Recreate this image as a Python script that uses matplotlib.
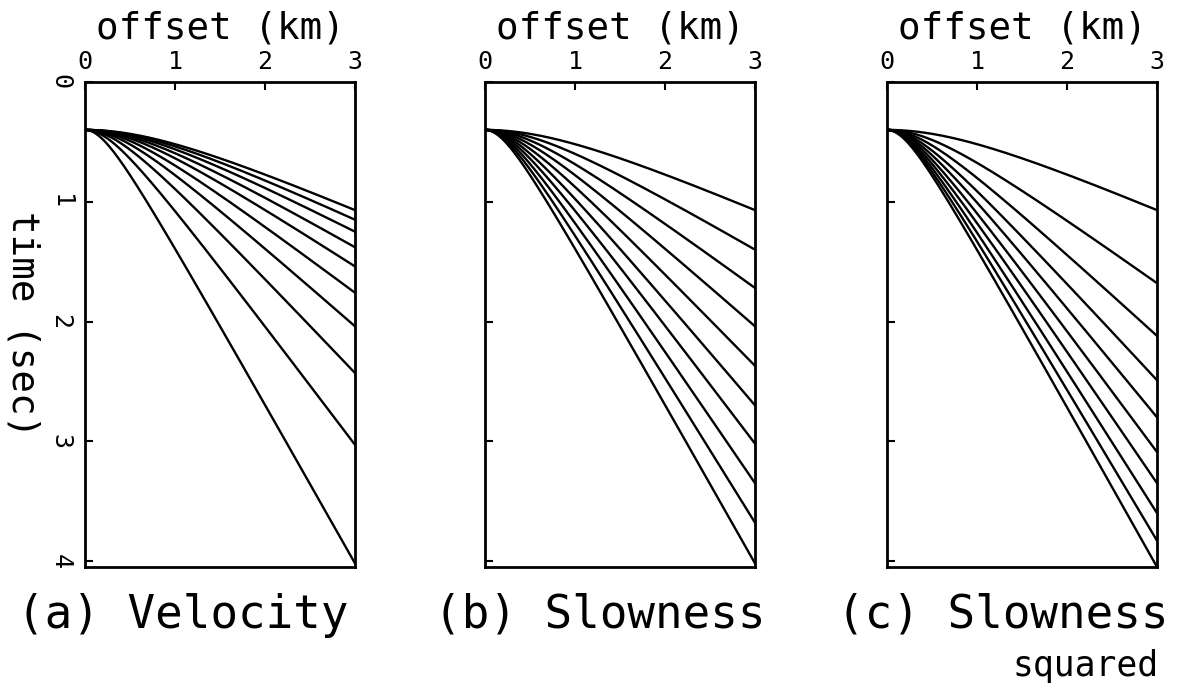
import numpy as np
import matplotlib.pyplot as plt

plt.rcParams['font.family'] = ['DejaVu Sans Mono']

# zero-offset time (s) and arrival times read at the far offset x = 3 km
t0 = 0.4
x_max = 3.0
t_end_velocity = [1.07, 1.15, 1.25, 1.38, 1.54, 1.76, 2.04, 2.43, 3.03, 4.02]
t_end_slowness = [1.07, 1.40, 1.72, 2.04, 2.37, 2.70, 3.02, 3.35, 3.68, 4.02]
t_end_slowness2 = [1.07, 1.68, 2.12, 2.49, 2.80, 3.09, 3.35, 3.60, 3.83, 4.05]

x_ticks = [0, 1, 2, 3]
y_ticks = [0, 1, 2, 3, 4]
titles = ['(a) Velocity', '(b) Slowness', '(c) Slowness']

fig = plt.figure(figsize=(11.94, 6.90), dpi=100)

lefts = [85/1194, 485/1194, 887/1194]
w = 270/1194
b = 1 - 567/690
h = 485/690

x = np.linspace(0, x_max, 300)
sets = [t_end_velocity, t_end_slowness, t_end_slowness2]

for i, (l, ends) in enumerate(zip(lefts, sets)):
    ax = fig.add_axes([l, b, w, h])
    for te in ends:
        s2 = (te**2 - t0**2) / x_max**2   # hyperbolic moveout
        ax.plot(x, np.sqrt(t0**2 + s2 * x**2), color='black', lw=1.7)
    ax.set_xlim(0, 3)
    ax.set_ylim(4.05, 0)
    ax.set_xticks(x_ticks)
    ax.set_yticks(y_ticks)
    ax.xaxis.tick_top()
    ax.xaxis.set_label_position('top')
    ax.tick_params(direction='in', length=6, width=1.5, labelsize=18, pad=6)
    ax.tick_params(axis='y', right=False, pad=9)
    ax.tick_params(axis='x', bottom=False)
    ax.set_xlabel('offset (km)', fontsize=27, labelpad=8)
    for sp in ax.spines.values():
        sp.set_linewidth(2)
    if i == 0:
        ax.set_yticklabels([str(v) for v in y_ticks], rotation=270, va='center')
        ax.set_ylabel('time (sec)', fontsize=27, rotation=270, labelpad=32, va='bottom')
    else:
        ax.set_yticklabels([])

fig.text(183/1194, 1 - 615/690, titles[0], fontsize=33, ha='center', va='center')
fig.text(600/1194, 1 - 615/690, titles[1], fontsize=33, ha='center', va='center')
fig.text(1003/1194, 1 - 615/690, titles[2], fontsize=33, ha='center', va='center')
fig.text(1086/1194, 1 - 666/690, 'squared', fontsize=25, ha='center', va='center')

fig.savefig('out.png', dpi=100)
